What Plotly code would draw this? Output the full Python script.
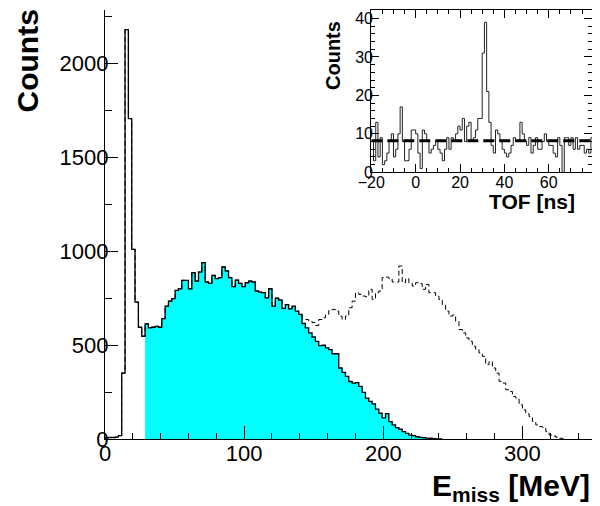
import numpy as np
import plotly.graph_objects as go

# ---------------- data ----------------
EMISS_BIN_W = 2.4          # MeV per bin, first bin starts at 0
# bins 0..58: solid and dashed histograms coincide
emiss_common = [6, 8, 8, 10, 18, 351, 2180, 1706, 1010, 729,
                595, 547, 613, 592, 595, 600, 595, 641, 707, 734,
                747, 791, 800, 845, 845, 800, 886, 841, 889, 939,
                836, 829, 871, 854, 859, 916, 895, 859, 811, 846,
                829, 811, 832, 841, 836, 788, 782, 779, 752, 800,
                707, 750, 740, 695, 715, 693, 707, 681, 663]
# bins 59..101 of the solid (selected) histogram
emiss_solid_tail = [615, 592, 565, 543, 520, 497, 499, 485, 476, 454,
                    454, 378, 355, 333, 306, 298, 300, 280, 248, 217,
                    200, 187, 159, 137, 112, 135, 93, 75, 61, 52,
                    39, 30, 21, 18, 12, 9, 7, 5, 4, 2, 1, 0]
# bins 59..137 of the dashed (all events) histogram
emiss_dashed_tail = [636, 636, 627, 620, 604, 636, 645, 663, 684, 690,
                     681, 654, 636, 654, 699, 734, 779, 770, 761, 757,
                     797, 743, 779, 788, 859, 862, 854, 836, 836, 921,
                     832, 854, 830, 814, 832, 827, 797, 823, 779, 779,
                     761, 743, 716, 681, 654, 660, 627, 583, 565, 538,
                     520, 494, 476, 458, 440, 396, 413, 378, 351, 307,
                     298, 262, 253, 226, 217, 182, 155, 134, 119, 93,
                     75, 66, 62, 39, 21, 16, 9, 4, 0]
FILL_START_BIN = 12

TOF_START = -20.0
TOF_BIN_W = 1.0
tof_counts = [8, 3, 13, 4, 9, 2, 3, 5, 8, 10,
              4, 6, 10, 17, 8, 3, 3, 6, 11, 11,
              10, 5, 1, 11, 10, 8, 5, 6, 7, 8,
              6, 5, 3, 6, 9, 6, 9, 8, 10, 12,
              11, 14, 8, 12, 13, 8, 9, 11, 14, 14,
              31, 39, 21, 13, 7, 5, 11, 10, 8, 6,
              5, 4, 5, 7, 9, 8, 8, 13, 10, 8,
              7, 9, 5, 7, 9, 6, 6, 8, 10, 8,
              7, 7, 5, 4, 9, 7, 0, 9, 9, 7,
              9, 6, 9, 6, 7, 7, 5, 6, 5, 9]
tof_background = 8.2

main_x_range = [0, 350]
main_y_range = [0, 2284]
tof_x_range = [-20, 79.5]
tof_y_range = [0, 42.2]


def step_xy(start, width, vals):
    vals = list(vals)
    edges = start + width * np.arange(len(vals) + 1)
    return edges, vals + [vals[-1]]


solid = emiss_common + emiss_solid_tail
dashed = emiss_common + emiss_dashed_tail

fig = go.Figure()

# cyan filled part
fx, fy = step_xy(FILL_START_BIN * EMISS_BIN_W, EMISS_BIN_W, solid[FILL_START_BIN:])
fig.add_trace(go.Scatter(x=fx, y=fy, mode="lines", line=dict(shape="hv", width=0, color="#00FFFF"),
                         fill="tozeroy", fillcolor="#00FFFF", hoverinfo="skip"))
# dashed histogram
dx, dy = step_xy(0.0, EMISS_BIN_W, dashed)
fig.add_trace(go.Scatter(x=dx, y=dy, mode="lines",
                         line=dict(shape="hv", width=1, color="black", dash="5px,3px")))
# solid histogram
sx, sy = step_xy(0.0, EMISS_BIN_W, solid)
fig.add_trace(go.Scatter(x=sx, y=sy, mode="lines",
                         line=dict(shape="hv", width=1.3, color="black")))

# inset
tx, ty = step_xy(TOF_START, TOF_BIN_W, tof_counts)
fig.add_trace(go.Scatter(x=tx, y=ty, mode="lines", xaxis="x2", yaxis="y2",
                         line=dict(shape="hv", width=1, color="#222222")))
fig.add_trace(go.Scatter(x=[tof_x_range[0], tof_x_range[1]], y=[tof_background, tof_background],
                         mode="lines", xaxis="x2", yaxis="y2",
                         line=dict(width=3, color="black", dash="11px,5px")))

# the page body has an 8px margin, so the figure is sized to end at the window edge
PAGE_OFF = 8
W, H = 600 - PAGE_OFF, 506 - PAGE_OFF
PL, PT, PR, PB = 105, 10, 592, 439      # plot frame in page pixels
L, T = PL - PAGE_OFF, PT - PAGE_OFF
R = W - (PR - PAGE_OFF)
B = H - (PB - PAGE_OFF)
pw, ph = PR - PL, PB - PT
inset_x0 = (371.3 - PL) / pw
inset_y0 = (PB - 172.3) / ph


def px(xp):
    return (xp - PL) / pw


def py(yp):
    return (PB - yp) / ph


tickfont_main = dict(family="Liberation Sans, Arial, sans-serif", size=22, color="black")
tickfont_inset = dict(family="Liberation Sans, Arial, sans-serif", size=16, color="black")

common_main = dict(showline=True, linecolor="black", linewidth=1.3, ticks="inside",
                   tickcolor="black", showgrid=False, zeroline=False)

fig.update_layout(
    width=W, height=H, margin=dict(l=L, r=R, t=T, b=B, autoexpand=False),
    paper_bgcolor="white", plot_bgcolor="white", showlegend=False,
    xaxis=dict(domain=[0, 1], range=main_x_range, dtick=100, tick0=0, ticklen=13,
               minor=dict(dtick=20, ticks="inside", ticklen=6, tickcolor="black"),
               tickfont=tickfont_main, anchor="y", ticklabelstandoff=-6, **common_main),
    yaxis=dict(domain=[0, 1], range=main_y_range, dtick=500, tick0=0, ticklen=13,
               minor=dict(dtick=250, ticks="inside", ticklen=7, tickcolor="black"),
               tickfont=tickfont_main, anchor="x", ticklabelstandoff=-9, **common_main),
    # top ticks of main frame, left of inset
    xaxis3=dict(domain=[0, inset_x0], range=[0, main_x_range[1] * inset_x0], dtick=100, tick0=0,
                ticklen=13, side="top", anchor="y3", showticklabels=False,
                minor=dict(dtick=20, ticks="inside", ticklen=6, tickcolor="black"), **common_main),
    yaxis3=dict(domain=[0, 1], range=[0, 1], visible=False, anchor="x3"),
    # right ticks of main frame, below inset
    xaxis4=dict(domain=[0, 1], range=[0, 1], visible=False, anchor="y4"),
    yaxis4=dict(domain=[0, inset_y0], range=[0, main_y_range[1] * inset_y0], dtick=500, tick0=0,
                ticklen=13, side="right", anchor="x4", showticklabels=False,
                minor=dict(dtick=250, ticks="inside", ticklen=7, tickcolor="black"), **common_main),
    # inset
    xaxis2=dict(domain=[inset_x0, 1], range=tof_x_range, dtick=20, tick0=0, ticklen=8,
                minor=dict(dtick=5, ticks="inside", ticklen=4, tickcolor="black"),
                tickfont=tickfont_inset, anchor="y2", mirror="allticks", ticklabelstandoff=-5,
                **common_main),
    yaxis2=dict(domain=[inset_y0, 1], range=tof_y_range, dtick=10, tick0=0, ticklen=8,
                minor=dict(dtick=2, ticks="inside", ticklen=4, tickcolor="black"),
                tickfont=tickfont_inset, anchor="x2", mirror="allticks", ticklabelstandoff=-6,
                **common_main),
)

title_font = dict(family="Liberation Sans, Arial, sans-serif", color="black")
fig.add_annotation(text="<b>Counts</b>", textangle=-90, xref="paper", yref="paper",
                   x=px(27), y=py(8), xanchor="center", yanchor="top", showarrow=False,
                   font=dict(size=30, **title_font))
fig.add_annotation(text="<b>E<sub>miss</sub> [MeV]</b>", xref="paper", yref="paper",
                   x=px(592), y=py(467), xanchor="right", yanchor="top",
                   showarrow=False, font=dict(size=30, **title_font))
fig.add_annotation(text="<b>Counts</b>", textangle=-90, xref="paper", yref="paper",
                   x=px(333), y=py(56), xanchor="center", yanchor="middle",
                   showarrow=False, font=dict(size=20, **title_font))
fig.add_annotation(text="<b>TOF [ns]</b>", xref="paper", yref="paper",
                   x=px(577), y=py(201), xanchor="right", yanchor="middle",
                   showarrow=False, font=dict(size=21, **title_font))

fig.write_html("out.html")
